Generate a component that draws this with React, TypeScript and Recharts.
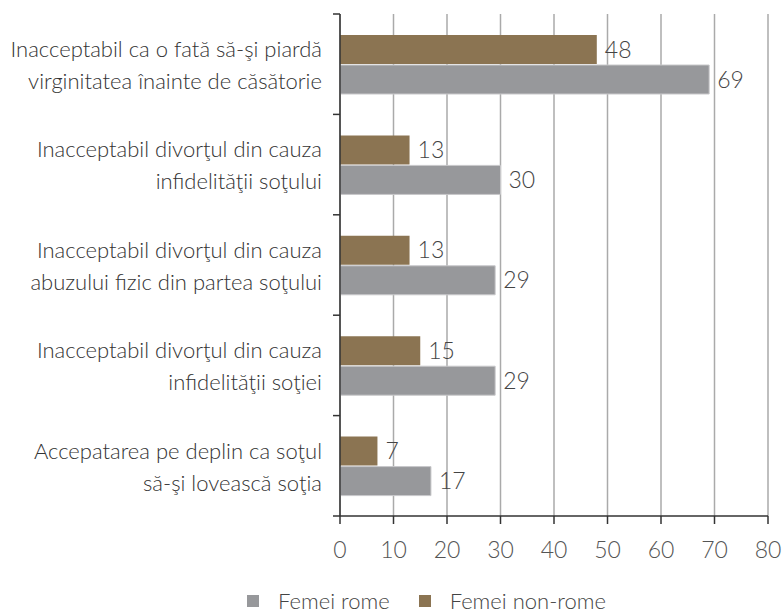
import React from "react";
import { BarChart, Bar, XAxis, YAxis, CartesianGrid, LabelList, Legend } from "recharts";

const categoryLines: string[][] = [
  ["Inacceptabil ca o fată să-şi piardă", "virginitatea înainte de căsătorie"],
  ["Inacceptabil divorţul din cauza", "infidelităţii soţului"],
  ["Inacceptabil divorţul din cauza", "abuzului fizic din partea soţului"],
  ["Inacceptabil divorţul din cauza", "infidelităţii soţiei"],
  ["Accepatarea pe deplin ca soţul", "să-şi lovească soţia"],
];
const femeiRome = [69, 30, 29, 29, 17];
const femeiNonRome = [48, 13, 13, 15, 7];
const xTicks = [0, 10, 20, 30, 40, 50, 60, 70, 80];

const data = categoryLines.map((lines, i) => ({
  name: lines.join(" "),
  idx: i,
  rome: femeiRome[i],
  nonRome: femeiNonRome[i],
}));

const FONT = "Lato, 'Open Sans', sans-serif";
const BAND = (516 - 14) / categoryLines.length;

const YTick = (props: any) => {
  const { x, y, index } = props;
  const lines = categoryLines[index] || [];
  return (
    <g>
      <line x1={x - 7} x2={x} y1={y - BAND / 2} y2={y - BAND / 2} stroke="#333" strokeWidth={1.5} />
      {index === categoryLines.length - 1 && (
        <line x1={x - 7} x2={x} y1={y + BAND / 2} y2={y + BAND / 2} stroke="#333" strokeWidth={1.5} />
      )}
      {lines.map((l, k) => (
        <text
          key={k}
          x={x - 18}
          y={y + (k === 0 ? -15 : 17)}
          dy="0.35em"
          textAnchor="end"
          fontSize={22}
          fontWeight={300}
          fill="#333"
          fontFamily={FONT}
        >
          {l}
        </text>
      ))}
    </g>
  );
};

const LegendContent = () => (
  <div
    style={{
      height: 37,
      display: "flex",
      alignItems: "flex-end",
      paddingLeft: 247,
      fontFamily: FONT,
      fontSize: 22,
      fontWeight: 300,
      color: "#444",
      boxSizing: "border-box",
      paddingBottom: 1,
    }}
  >
    <div style={{ display: "flex", alignItems: "center", height: 22, lineHeight: "22px" }}>
      <span style={{ width: 12, height: 12, background: "#97989b", display: "inline-block", marginRight: 19 }} />
      <span>Femei rome</span>
      <span style={{ width: 12, height: 12, background: "#8b7452", display: "inline-block", marginLeft: 29, marginRight: 19 }} />
      <span>Femei non-rome</span>
    </div>
  </div>
);

export default function App() {
  return (
    <div style={{ position: "absolute", left: 0, top: 0, background: "#fff" }}>
      <BarChart
        width={783}
        height={613}
        data={data}
        layout="vertical"
        margin={{ top: 14, right: 15, bottom: 0, left: 0 }}
        barSize={29}
        barGap={1}
      >
        <CartesianGrid horizontal={false} vertical={true} stroke="#aaaaaa" strokeWidth={1.5} />
        <XAxis
          type="number"
          domain={[0, 80]}
          ticks={xTicks}
          interval={0}
          height={60}
          axisLine={{ stroke: "#333", strokeWidth: 1.5 }}
          tickLine={{ stroke: "#333", strokeWidth: 1.5 }}
          tickSize={8}
          tickMargin={18}
          tick={{ fontSize: 23, fill: "#555", fontFamily: FONT, fontWeight: 300 }}
        />
        <YAxis
          type="category"
          dataKey="name"
          width={340}
          axisLine={{ stroke: "#333", strokeWidth: 1.5 }}
          tickLine={false}
          tickSize={0}
          tickMargin={0}
          interval={0}
          tick={<YTick />}
        />
        <Bar dataKey="nonRome" name="Femei non-rome" fill="#8b7452" isAnimationActive={false}>
          <LabelList
            dataKey="nonRome"
            position="right"
            offset={8}
            fontSize={23}
            fill="#444"
            fontFamily={FONT}
            fontWeight={300}
          />
        </Bar>
        <Bar dataKey="rome" name="Femei rome" fill="#97989b" stroke="#c8c8ca" strokeWidth={1} isAnimationActive={false}>
          <LabelList
            dataKey="rome"
            position="right"
            offset={8}
            fontSize={23}
            fill="#444"
            fontFamily={FONT}
            fontWeight={300}
          />
        </Bar>
        <Legend verticalAlign="bottom" content={<LegendContent />} wrapperStyle={{ height: 37 }} />
      </BarChart>
    </div>
  );
}
